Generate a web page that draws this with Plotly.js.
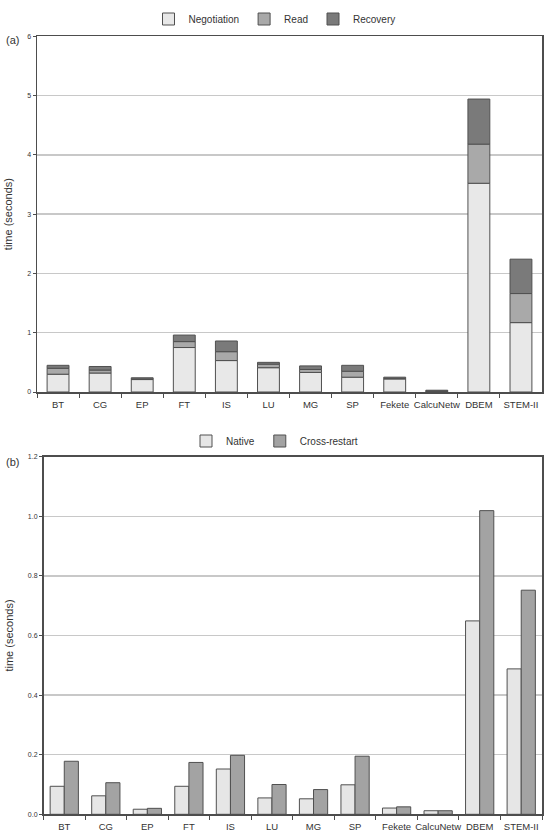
<!DOCTYPE html>
<html>
<head>
<meta charset="utf-8">
<script src="https://cdn.plot.ly/plotly-3.0.1.min.js"></script>
<style>html,body{margin:0;padding:0;background:#fff;}#chart{width:549px;height:834px;}</style>
</head>
<body>
<div id="chart"></div>
<script>
var categories = ['BT','CG','EP','FT','IS','LU','MG','SP','Fekete','CalcuNetw','DBEM','STEM-II'];
var negotiation = [0.30,0.32,0.21,0.75,0.53,0.41,0.33,0.25,0.22,0.01,3.52,1.17];
var readTime = [0.10,0.05,0.01,0.10,0.15,0.06,0.05,0.10,0.01,0.005,0.66,0.49];
var recovery = [0.05,0.06,0.02,0.11,0.18,0.03,0.06,0.10,0.02,0.015,0.76,0.58];
var nativeTime = [0.094,0.062,0.017,0.094,0.152,0.055,0.052,0.099,0.021,0.012,0.649,0.488];
var crossRestart = [0.178,0.106,0.020,0.174,0.198,0.100,0.083,0.195,0.025,0.012,1.019,0.752];

var baseRead = negotiation.slice();
var baseRec = negotiation.map(function(v,i){return v + readTime[i];});

var W = 549, H = 834;
var lineC = '#4d4d4d';
var barLine = {color:'#505050', width:1};
var fontFam = '"Liberation Sans", Arial, sans-serif';

var traces = [
  {type:'bar', name:'Negotiation', x:categories, y:negotiation, xaxis:'x', yaxis:'y', offsetgroup:'a', width:0.52, offset:-0.26, marker:{color:'#e8e8e8', line:barLine}, legend:'legend'},
  {type:'bar', name:'Read', x:categories, y:readTime, base:baseRead, xaxis:'x', yaxis:'y', offsetgroup:'a', width:0.52, offset:-0.26, marker:{color:'#a9a9a9', line:barLine}, legend:'legend'},
  {type:'bar', name:'Recovery', x:categories, y:recovery, base:baseRec, xaxis:'x', yaxis:'y', offsetgroup:'a', width:0.52, offset:-0.26, marker:{color:'#7a7a7a', line:barLine}, legend:'legend'},
  {type:'bar', name:'Native', x:categories, y:nativeTime, xaxis:'x2', yaxis:'y2', offsetgroup:'n', width:0.34, offset:-0.34, marker:{color:'#e6e6e6', line:barLine}, legend:'legend2'},
  {type:'bar', name:'Cross-restart', x:categories, y:crossRestart, xaxis:'x2', yaxis:'y2', offsetgroup:'c', width:0.34, offset:0, marker:{color:'#a3a3a3', line:barLine}, legend:'legend2'}
];

function xa(domain, anchor){
  return {domain:domain, anchor:anchor, type:'category', showline:true, mirror:true, linecolor:lineC, linewidth:1.5,
    ticks:'outside', tickson:'boundaries', ticklen:4, tickcolor:lineC, tickwidth:1, tickangle:0, ticklabelstandoff:3,
    tickfont:{size:9.5, color:'#333', family:fontFam}, showgrid:false, zeroline:false, fixedrange:true};
}
function ya(domain, anchor, range, dtick, fmt){
  return {domain:domain, anchor:anchor, range:range, dtick:dtick, tickformat:fmt, showline:true, mirror:true,
    linecolor:lineC, linewidth:1.5, ticks:'outside', ticklen:3, tickcolor:lineC,
    tickfont:{size:7, color:'#333', family:fontFam}, showgrid:true, gridcolor:'#c8c8c8', gridwidth:1.5,
    zeroline:false,
    title:{text:'time (seconds)', font:{size:11, color:'#333', family:fontFam}, standoff:12}};
}

var layout = {
  width:W, height:H, margin:{l:0, r:0, t:0, b:0},
  paper_bgcolor:'#fff', plot_bgcolor:'#fff',
  barmode:'group',
  font:{family:fontFam, color:'#333'},
  xaxis: xa([37/W, 542/W], 'y'),
  yaxis: ya([1-392/H, 1-36.2/H], 'x', [0,6], 1, 'd'),
  xaxis2: xa([43.5/W, 542/W], 'y2'),
  yaxis2: ya([1-814.3/H, 1-456.7/H], 'x2', [0,1.2], 0.2, '.1f'),
  legend:{orientation:'h', x:0.5, xanchor:'center', y:1-19/H, yanchor:'middle', bgcolor:'rgba(0,0,0,0)', font:{size:10, color:'#333'}, itemwidth:30, traceorder:'normal'},
  legend2:{orientation:'h', x:0.5, xanchor:'center', y:1-441/H, yanchor:'middle', bgcolor:'rgba(0,0,0,0)', font:{size:10, color:'#333'}, itemwidth:30, traceorder:'normal'},
  annotations:[
    {text:'(a)', x:4/W, y:1-40/H, xref:'paper', yref:'paper', xanchor:'left', yanchor:'middle', showarrow:false, font:{size:11, color:'#333'}},
    {text:'(b)', x:4/W, y:1-462/H, xref:'paper', yref:'paper', xanchor:'left', yanchor:'middle', showarrow:false, font:{size:11, color:'#333'}}
  ]
};

Plotly.newPlot('chart', traces, layout, {displayModeBar:false, staticPlot:true});
</script>
</body>
</html>
